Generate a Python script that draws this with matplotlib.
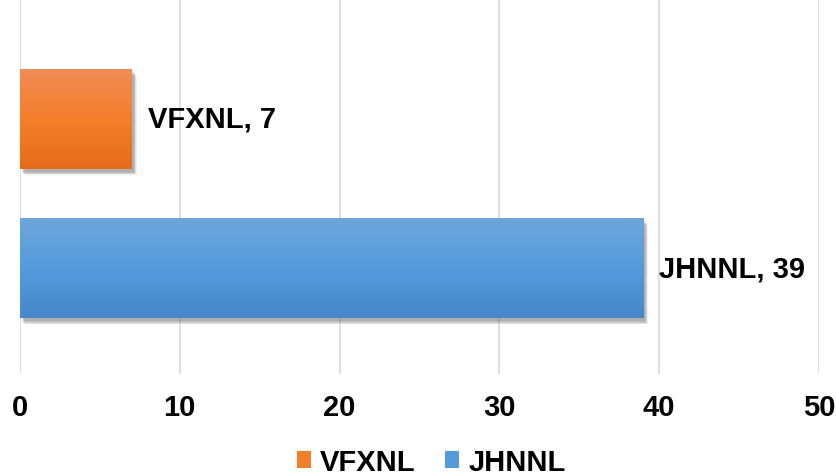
import numpy as np
import matplotlib
matplotlib.use('Agg')
import matplotlib.pyplot as plt
import matplotlib.patheffects as pe
from matplotlib.colors import LinearSegmentedColormap
from matplotlib.patches import Patch

# datos
series = ['JHNNL', 'VFXNL']
values = [39, 7]
x_ticks = [0, 10, 20, 30, 40, 50]

# colores degradados (arriba -> abajo)
grad_colors = {
    'VFXNL': ['#F08C55', '#F47F2C', '#E46C1C'],
    'JHNNL': ['#6EA6DB', '#559BDC', '#4688CA'],
}
legend_colors = {'VFXNL': '#F47F2C', 'JHNNL': '#559BDC'}

plt.rcParams['font.family'] = ['Liberation Sans', 'DejaVu Sans']

fig = plt.figure(figsize=(8.37, 4.77), dpi=100)
ax = fig.add_axes([20 / 837, 102 / 477, 799 / 837, 375 / 477])

# sombra difusa aproximada con varias capas
shadow = [pe.SimplePatchShadow(offset=(dx, dy), shadow_rgbFace='#555555', alpha=a)
          for dx, dy, a in [(3.5, -4.5, 0.08), (3, -4, 0.10), (2.5, -3.5, 0.12),
                            (2, -3, 0.14), (1.5, -2, 0.12)]]

bar_h = 0.67
ypos = np.arange(len(series))
bars = ax.barh(ypos, values, height=bar_h, color='none', zorder=3,
               path_effects=shadow + [pe.Normal()])

for bar, name, val, y in zip(bars, series, values, ypos):
    cmap = LinearSegmentedColormap.from_list(name, grad_colors[name])
    grad = np.linspace(0, 1, 256).reshape(-1, 1)
    im = ax.imshow(grad, cmap=cmap, aspect='auto', zorder=4, origin='upper',
                   extent=[0, val, y - bar_h / 2, y + bar_h / 2])
    im.set_clip_path(bar)
    ax.text(val + 1.0, y, f'{name}, {val}', va='center', ha='left',
            fontsize=21, fontweight='bold', zorder=5)

ax.set_xlim(0, 50)
ax.set_ylim(-0.711, 1.805)
ax.set_xticks(x_ticks)
ax.set_xticklabels([str(t) for t in x_ticks], fontsize=21, fontweight='bold')
ax.set_yticks([])
ax.tick_params(axis='x', length=0, pad=14)
ax.grid(axis='x', color='#D9D9D9', linewidth=1.2, zorder=0)
for s in ax.spines.values():
    s.set_visible(False)

handles = [Patch(facecolor=legend_colors[n], label=n) for n in ['VFXNL', 'JHNNL']]
fig.legend(handles=handles, loc='center', bbox_to_anchor=(0.515, 14 / 477), ncol=2,
           frameon=False, prop={'size': 21, 'weight': 'bold'},
           handlelength=0.5, handleheight=0.5, handletextpad=0.3, columnspacing=1.0,
           borderpad=0, borderaxespad=0)

fig.savefig('out.png', dpi=100)
